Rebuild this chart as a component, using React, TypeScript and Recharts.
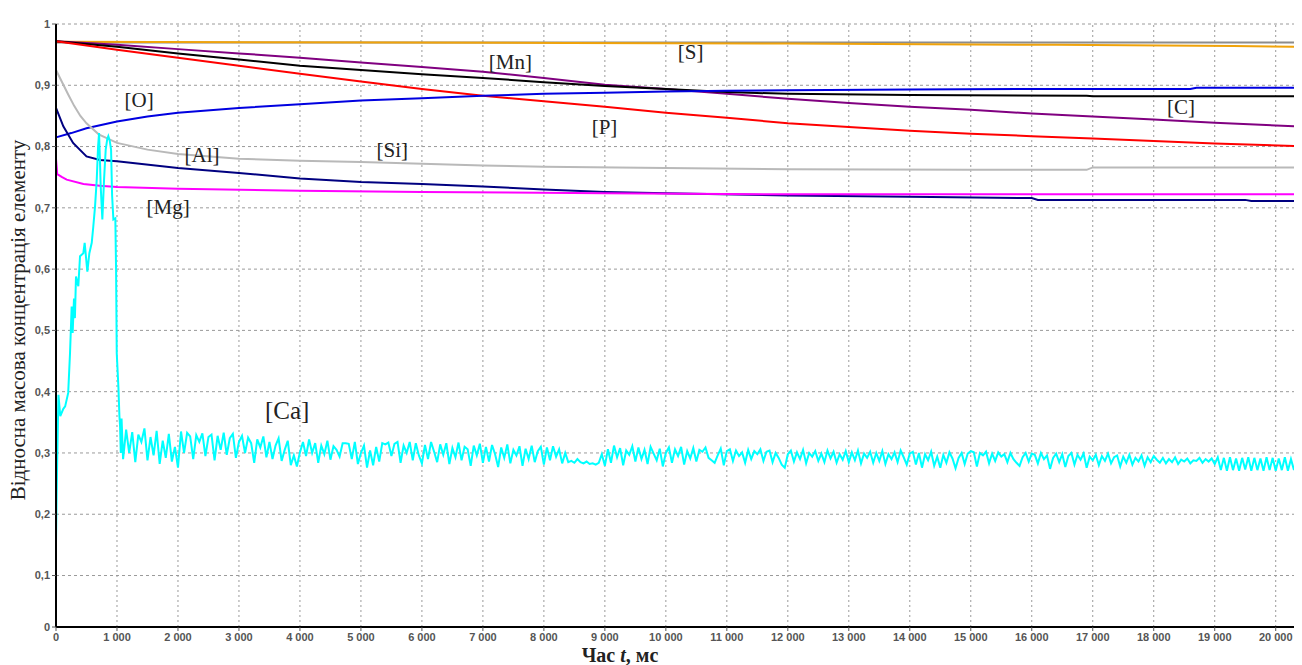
import { CartesianGrid, Line, LineChart, ReferenceDot, ReferenceLine, XAxis, YAxis } from "recharts";

// [t (ms), relative mass concentration]
const sulphur = [[0, 0.971], [5600, 0.970], [8400, 0.969], [12000, 0.968], [16400, 0.966], [19300, 0.964], [20300, 0.963]];
const upperGray = [[0, 0.970], [20300, 0.970]];
const manganese = [[0, 0.972], [1000, 0.966], [2000, 0.959], [3000, 0.952], [4000, 0.945], [5000, 0.937], [6000, 0.930], [7000, 0.922], [8000, 0.912], [9000, 0.901], [10000, 0.894], [11000, 0.886], [12000, 0.878], [13000, 0.871], [14000, 0.865], [15000, 0.860], [16000, 0.854], [17000, 0.849], [18000, 0.844], [19000, 0.839], [20300, 0.833]];
const carbon = [[0, 0.972], [1000, 0.963], [2000, 0.952], [3000, 0.942], [4000, 0.932], [5000, 0.925], [6000, 0.918], [7000, 0.912], [8000, 0.905], [9000, 0.899], [10000, 0.894], [11000, 0.889], [12000, 0.886], [14000, 0.884], [16900, 0.883], [17000, 0.882], [20300, 0.882]];
const phosphorus = [[0, 0.972], [1000, 0.958], [2000, 0.945], [3000, 0.932], [4000, 0.919], [5000, 0.906], [6000, 0.894], [7000, 0.883], [8000, 0.874], [9000, 0.865], [10000, 0.855], [11000, 0.847], [12000, 0.838], [13000, 0.832], [14000, 0.826], [15000, 0.821], [16000, 0.817], [17000, 0.813], [18000, 0.809], [19000, 0.805], [20300, 0.801]];
const oxygen = [[0, 0.815], [250, 0.822], [500, 0.830], [1000, 0.841], [1500, 0.849], [2000, 0.855], [3000, 0.863], [4000, 0.869], [5000, 0.875], [6000, 0.879], [7000, 0.883], [8000, 0.886], [9000, 0.888], [10000, 0.890], [11000, 0.891], [12000, 0.892], [14000, 0.893], [16000, 0.894], [18600, 0.894], [18700, 0.896], [20300, 0.896]];
const silicon = [[0, 0.925], [100, 0.905], [200, 0.885], [300, 0.866], [400, 0.850], [500, 0.838], [700, 0.820], [1000, 0.806], [1500, 0.795], [2000, 0.788], [3000, 0.780], [4000, 0.777], [5000, 0.775], [6000, 0.772], [7000, 0.769], [8000, 0.767], [10000, 0.765], [12000, 0.763], [15000, 0.762], [16900, 0.762], [17000, 0.766], [20300, 0.766]];
const aluminium = [[0, 0.863], [120, 0.833], [280, 0.806], [500, 0.784], [720, 0.778], [1000, 0.776], [2000, 0.765], [3000, 0.757], [4000, 0.748], [5000, 0.742], [6000, 0.739], [7000, 0.735], [8000, 0.730], [9000, 0.726], [10000, 0.724], [12000, 0.720], [14000, 0.718], [16000, 0.716], [16100, 0.713], [19500, 0.713], [19600, 0.711], [20300, 0.711]];
const magnesium = [[0, 0.780], [20, 0.755], [100, 0.750], [175, 0.746], [450, 0.739], [720, 0.736], [1000, 0.734], [2000, 0.731], [4000, 0.728], [6000, 0.726], [9000, 0.724], [12000, 0.722], [20300, 0.722]];

// calcium: start-up peak, then a noisy tail sampled every 50 ms from 1100 ms
const calciumPeak = [[0, 0.153], [10, 0.229], [20, 0.289], [40, 0.395], [70, 0.360], [120, 0.372], [150, 0.376], [200, 0.398], [230, 0.463], [257, 0.539], [273, 0.496], [295, 0.552], [310, 0.520], [328, 0.588], [366, 0.572], [394, 0.621], [448, 0.626], [470, 0.643], [514, 0.596], [547, 0.626], [586, 0.643], [612, 0.670], [640, 0.702], [668, 0.746], [690, 0.800], [706, 0.822], [720, 0.780], [733, 0.735], [760, 0.681], [788, 0.746], [815, 0.795], [840, 0.812], [858, 0.817], [880, 0.810], [903, 0.795], [920, 0.720], [941, 0.681], [973, 0.683], [985, 0.600], [996, 0.463], [1023, 0.408], [1040, 0.360], [1050, 0.345], [1062, 0.300], [1075, 0.356]];
const calciumTailStart = 1100;
const calciumTailStep = 50;
const calciumTail = [
  0.290, 0.338, 0.300, 0.334, 0.285, 0.330, 0.318, 0.340, 0.288, 0.326, 0.296, 0.336, 0.282, 0.320, 0.292, 0.331, 0.286, 0.310, 0.276,
  0.335, 0.300, 0.333, 0.327, 0.290, 0.329, 0.318, 0.332, 0.295, 0.326, 0.330, 0.288, 0.328, 0.305, 0.333, 0.297, 0.324, 0.331, 0.292, 0.318,
  0.328, 0.300, 0.325, 0.316, 0.284, 0.322, 0.309, 0.327, 0.293, 0.318, 0.290, 0.312, 0.324, 0.287, 0.305, 0.320, 0.280, 0.296, 0.278, 0.301,
  0.318, 0.295, 0.322, 0.300, 0.316, 0.284, 0.312, 0.298, 0.320, 0.289, 0.311, 0.305, 0.294, 0.316, 0.316, 0.315, 0.290, 0.318, 0.282, 0.300,
  0.312, 0.276, 0.304, 0.280, 0.310, 0.286, 0.316, 0.314, 0.317, 0.295, 0.315, 0.318, 0.284, 0.312, 0.300, 0.318, 0.288, 0.316, 0.296, 0.283,
  0.313, 0.290, 0.318, 0.302, 0.285, 0.314, 0.297, 0.316, 0.282, 0.308, 0.293, 0.317, 0.288, 0.310, 0.306, 0.279, 0.312, 0.296, 0.315, 0.284,
  0.310, 0.286, 0.313, 0.298, 0.277, 0.309, 0.292, 0.314, 0.283, 0.305, 0.296, 0.311, 0.279, 0.307, 0.290, 0.312, 0.285, 0.303, 0.310, 0.281,
  0.309, 0.288, 0.311, 0.294, 0.306, 0.283, 0.300, 0.285, 0.287, 0.284, 0.290, 0.285, 0.283, 0.286, 0.282, 0.283, 0.281, 0.284, 0.298, 0.279,
  0.306, 0.284, 0.312, 0.293, 0.308, 0.280, 0.304, 0.297, 0.311, 0.286, 0.309, 0.290, 0.305, 0.282, 0.310, 0.299, 0.288, 0.307, 0.278, 0.300,
  0.309, 0.284, 0.306, 0.295, 0.310, 0.281, 0.303, 0.291, 0.308, 0.286, 0.305, 0.302, 0.309, 0.292, 0.288, 0.284, 0.296, 0.307, 0.280, 0.303,
  0.306, 0.287, 0.304, 0.295, 0.301, 0.284, 0.305, 0.290, 0.303, 0.298, 0.306, 0.287, 0.302, 0.304, 0.285, 0.300, 0.292, 0.281, 0.276, 0.298,
  0.304, 0.286, 0.301, 0.290, 0.305, 0.283, 0.300, 0.294, 0.303, 0.287, 0.299, 0.285, 0.304, 0.291, 0.302, 0.284, 0.298, 0.289, 0.303, 0.285,
  0.301, 0.288, 0.304, 0.283, 0.299, 0.292, 0.302, 0.284, 0.300, 0.287, 0.303, 0.282, 0.298, 0.290, 0.301, 0.285, 0.304, 0.293, 0.281, 0.299,
  0.302, 0.281, 0.300, 0.276, 0.298, 0.288, 0.302, 0.279, 0.294, 0.276, 0.297, 0.284, 0.301, 0.291, 0.275, 0.292, 0.300, 0.282, 0.299, 0.303,
  0.301, 0.278, 0.300, 0.296, 0.302, 0.283, 0.299, 0.287, 0.301, 0.294, 0.298, 0.285, 0.300, 0.290, 0.284, 0.279, 0.293, 0.300, 0.286, 0.299,
  0.297, 0.283, 0.300, 0.290, 0.296, 0.274, 0.292, 0.299, 0.285, 0.298, 0.277, 0.295, 0.300, 0.281, 0.297, 0.289, 0.299, 0.276, 0.294, 0.288,
  0.297, 0.280, 0.295, 0.287, 0.299, 0.283, 0.293, 0.296, 0.278, 0.294, 0.284, 0.297, 0.281, 0.292, 0.286, 0.296, 0.279, 0.293, 0.285, 0.295,
  0.289, 0.284, 0.292, 0.283, 0.290, 0.285, 0.293, 0.282, 0.289, 0.286, 0.291, 0.283, 0.288, 0.287, 0.292, 0.284, 0.290, 0.286, 0.291, 0.282,
  0.293, 0.272, 0.292, 0.271, 0.293, 0.272, 0.291, 0.271, 0.292, 0.273, 0.293, 0.271, 0.292, 0.272, 0.291, 0.271, 0.293, 0.272, 0.292, 0.271, 0.291, 0.272, 0.293, 0.271, 0.290, 0.272,
];

const xTicks = [0, 1000, 2000, 3000, 4000, 5000, 6000, 7000, 8000, 9000, 10000, 11000, 12000, 13000, 14000, 15000, 16000, 17000, 18000, 19000, 20000];
// the software puts its "0" a little above the real zero
const yBottom = 0.016;
const yTicks = [yBottom, 0.1, 0.2, 0.3, 0.4, 0.5, 0.6, 0.7, 0.8, 0.9, 1];

const labels = [
  { text: "[S]", t: 10405, v: 0.955, size: 21 },
  { text: "[Mn]", t: 7451, v: 0.938, size: 21 },
  { text: "[O]", t: 1362, v: 0.876, size: 21 },
  { text: "[C]", t: 18447, v: 0.866, size: 21 },
  { text: "[P]", t: 8994, v: 0.832, size: 21 },
  { text: "[Al]", t: 2396, v: 0.787, size: 21 },
  { text: "[Si]", t: 5515, v: 0.795, size: 21 },
  { text: "[Mg]", t: 1838, v: 0.702, size: 21 },
  { text: "[Ca]", t: 3791, v: 0.37, size: 25 },
];

const toPoints = (pairs: number[][]) => pairs.map(([t, v]) => ({ t, v }));

const calcium = [
  ...toPoints(calciumPeak),
  ...calciumTail.map((v, i) => ({ t: calciumTailStart + i * calciumTailStep, v })),
];

const series = [
  { name: "upper", data: toPoints(upperGray), color: "#8c8c8c" },
  { name: "S", data: toPoints(sulphur), color: "#f0a30a" },
  { name: "Mn", data: toPoints(manganese), color: "#800080" },
  { name: "C", data: toPoints(carbon), color: "#000000" },
  { name: "P", data: toPoints(phosphorus), color: "#ff0000" },
  { name: "O", data: toPoints(oxygen), color: "#0000e0" },
  { name: "Si", data: toPoints(silicon), color: "#b9b9b9" },
  { name: "Al", data: toPoints(aluminium), color: "#000080" },
  { name: "Mg", data: toPoints(magnesium), color: "#ff00ff" },
  { name: "Ca", data: calcium, color: "#00ffff" },
];

const fmtX = (t: number) => (t === 0 ? "0" : `${t / 1000} 000`);
const fmtY = (v: number) => (v < 0.05 ? "0" : v === 1 ? "1" : v.toFixed(1).replace(".", ","));

const tickStyle = { fill: "#555", fontSize: 11, fontFamily: "Liberation Sans, Arial, sans-serif", fontWeight: 600 };
const serif = "Liberation Serif, Times New Roman, serif";

export default function App() {
  return (
    <div style={{ position: "relative", width: 1286, height: 657 }}>
      <div style={{ position: "absolute", left: 0, top: -5, width: 1294, height: 1, background: "#c4c4c4" }} />
      <LineChart width={1286} height={649} margin={{ top: 16, right: 0, bottom: 0, left: 0 }}>
        <CartesianGrid stroke="#9a9a9a" strokeDasharray="3 3" vertical={false} />
        {xTicks.slice(1).map((t) => (
          <ReferenceLine key={t} x={t} stroke="#9a9a9a" strokeDasharray="2 3" />
        ))}
        <XAxis
          type="number"
          dataKey="t"
          domain={[0, 20300]}
          ticks={xTicks}
          tickFormatter={fmtX}
          height={30}
          tick={tickStyle}
          tickSize={4}
          axisLine={{ stroke: "#000", strokeWidth: 2 }}
          tickLine={{ stroke: "#555" }}
        />
        <YAxis
          type="number"
          domain={[yBottom, 1]}
          ticks={yTicks}
          tickFormatter={fmtY}
          width={48}
          tick={tickStyle}
          tickSize={4}
          axisLine={{ stroke: "#000", strokeWidth: 2 }}
          tickLine={{ stroke: "#555" }}
        />
        {series.map((s) => (
          <Line
            key={s.name}
            data={s.data}
            dataKey="v"
            type="linear"
            stroke={s.color}
            strokeWidth={2}
            dot={false}
            isAnimationActive={false}
          />
        ))}
        {labels.map((l) => (
          <ReferenceDot
            key={l.text}
            x={l.t}
            y={l.v}
            r={0}
            fill="none"
            stroke="none"
            label={{ value: l.text, position: "center", fill: "#222", fontSize: l.size, fontFamily: serif }}
          />
        ))}
      </LineChart>
      <div
        style={{
          position: "absolute",
          left: 10,
          top: 312,
          transform: "translate(-50%, -50%) rotate(-90deg)",
          whiteSpace: "nowrap",
          fontFamily: serif,
          fontSize: 21,
          color: "#222",
        }}
      >
        Відносна масова концентрація елементу
      </div>
      <div
        style={{
          position: "absolute",
          left: 612,
          top: 647,
          transform: "translate(-50%, -50%)",
          whiteSpace: "nowrap",
          fontFamily: serif,
          fontSize: 20,
          fontWeight: "bold",
          color: "#222",
        }}
      >
        Час <i>t</i>, мс
      </div>
    </div>
  );
}
